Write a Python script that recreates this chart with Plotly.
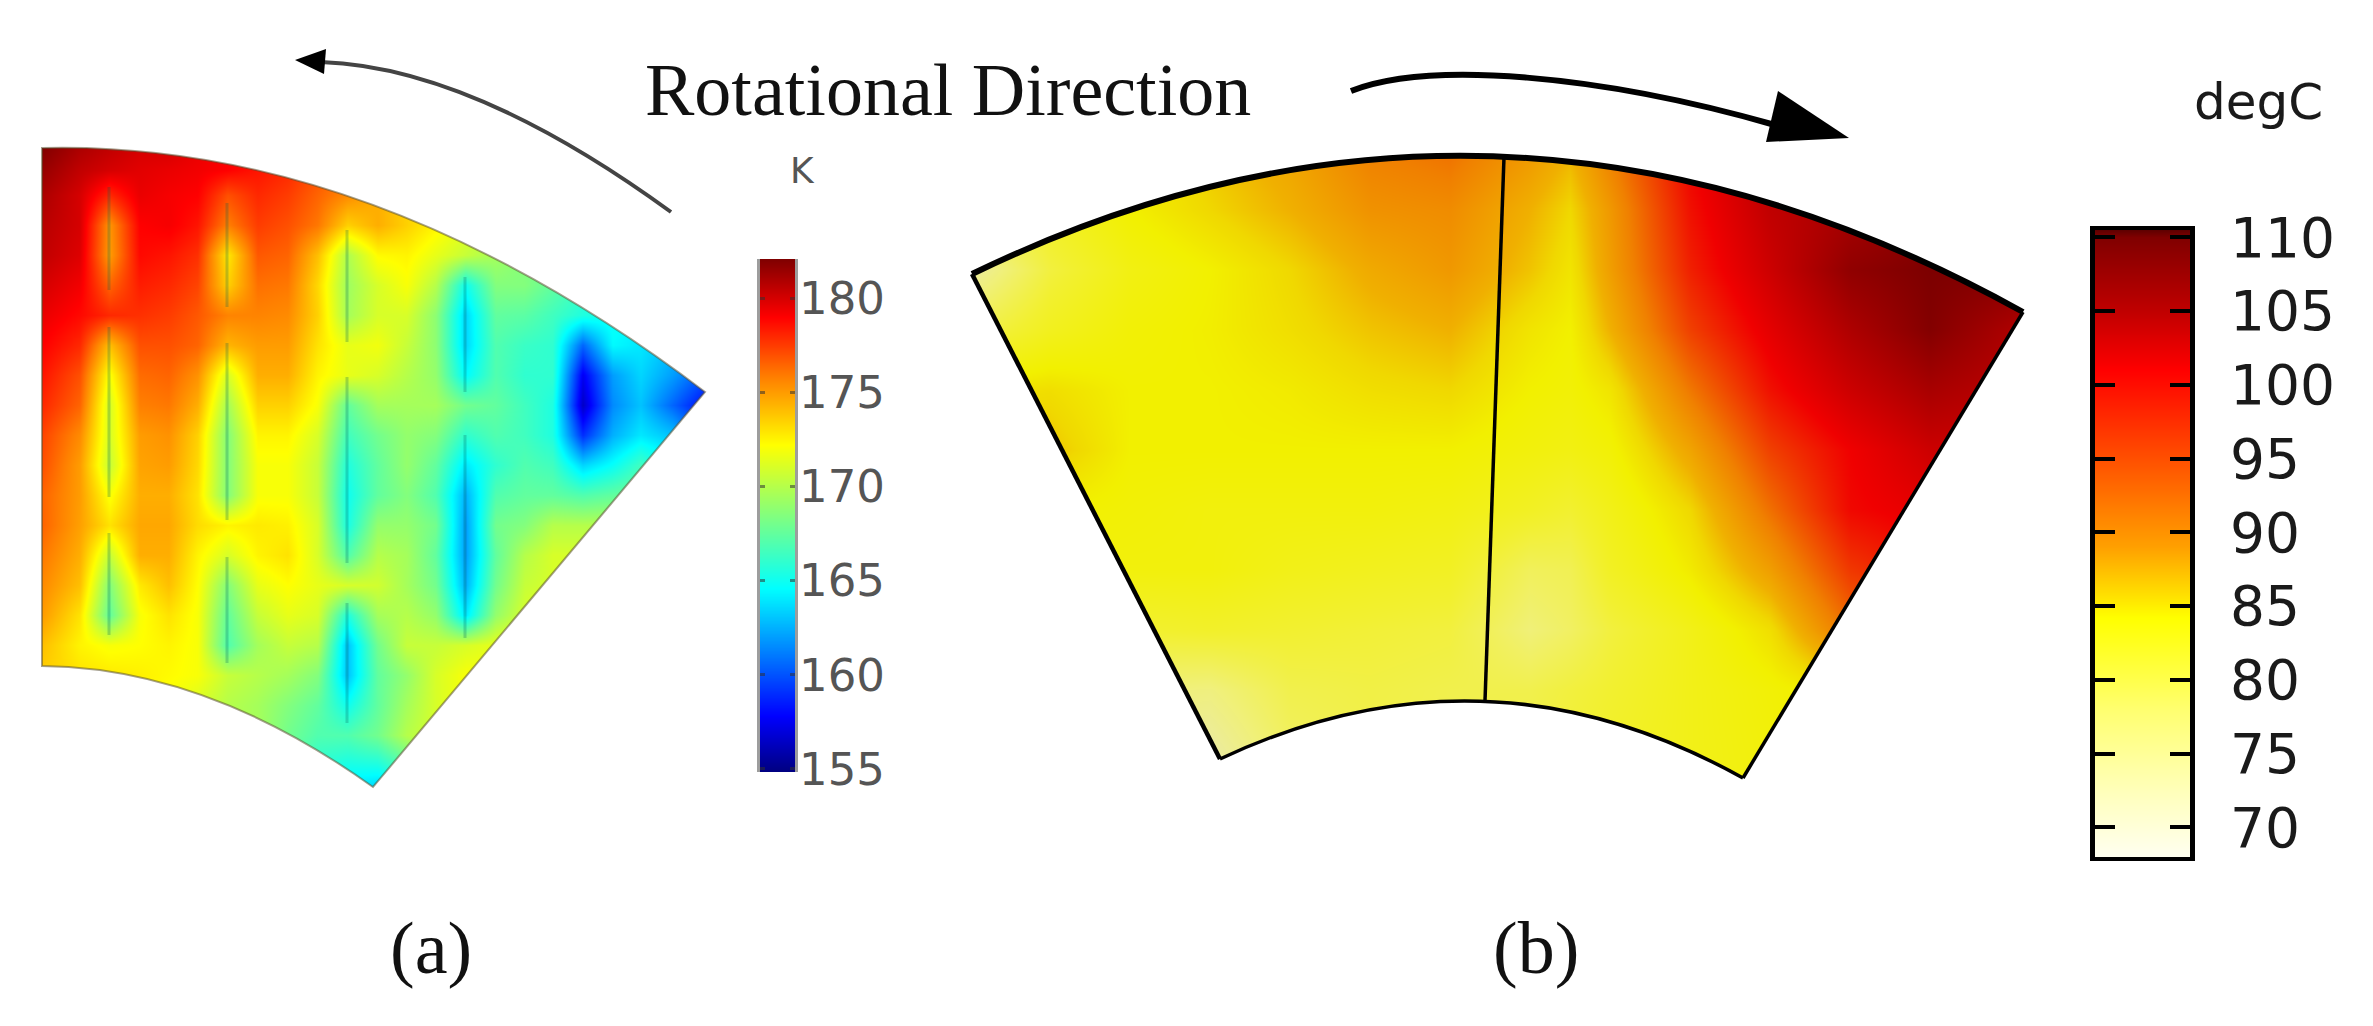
import plotly.graph_objects as go

# ---------- panel (a): temperature field, K ----------
a_x = [42, 79, 109, 139, 168, 197, 227, 257, 287, 317, 347, 377, 406, 435, 465, 495, 524, 552, 582, 612, 640, 672, 705]
a_y = [148, 170, 195, 225, 255, 285, 315, 345, 375, 405, 435, 465, 495, 525, 555, 585, 615, 645, 675, 705, 735, 787]
a_z = [
 [182,181,180.5,180,180,179.5,179,178.5,178,177.5,177,176,175,174,173,172,171,170,169,168,167,166,165],
 [181.5,180.5,180,179.7,179.5,179.3,179,178.5,178,177,176,175,174,173,172,171,170,169,168,167,166,165,164],
 [181,180,178,179.5,179.2,179,177,178,177.5,176.5,175.5,174.5,173.5,172.5,171.5,170.5,169.5,168.5,167.5,166.5,165.5,164.5,163.5],
 [180.7,180,175.2,179,179.2,178.5,175.8,177.5,177,176,173.5,174.5,173.5,172.5,171.5,170.5,169.5,168.5,167.5,166.5,165.5,164.5,163.5],
 [180.5,179.8,175,178.8,178.5,177.8,172.8,176.8,176.5,174,169.8,172.3,172.5,171.5,170.5,169.5,168.5,167.5,166.5,165.5,164.5,163.5,162.5],
 [180,179.3,176.5,178.3,178,177.3,173.5,176.2,176,173.3,169.3,171,172,170,165,168.5,168.5,167.5,166.5,165.5,164.5,163.5,162.5],
 [179.5,178.8,178,177.8,177.5,176.8,175.7,175.7,175.5,173.5,169.5,171,171,168.8,163.5,167.5,167.3,166.5,165.5,165,164.5,163.5,162.5],
 [179,178,174,177,177,176.5,174.3,175,175,173,171.5,171.8,170.5,168.8,163.5,167,166.3,166,160.5,164.5,164,163,162],
 [178.5,177,172,176.3,176.5,175.3,171,174.5,174.5,172.5,171.5,171,170,169,164.5,167,166,166,157.5,162,163.5,162,160],
 [178,176.5,171,175.8,176,174.5,169.5,173.5,173.5,172,167.5,169.5,169.5,169.5,168,167.5,166.5,165.5,156.5,161.5,163,160.5,158],
 [177.3,175.5,171,175,175.3,173.5,168.5,172.5,172.5,171,166.5,168,169,168.5,166,167,166.5,165.5,159,162.5,164,163,160],
 [177,175,170.5,174.8,175,173.3,168.5,172,172,170.5,165.5,167.5,169,167.5,164,166,167,166.5,163.5,164.8,166.5,165,163],
 [176.5,175,172,174.5,174.5,173,168.5,172,172,170.5,165,167.5,168.5,167,162.5,167,167.5,167.5,167,167.5,168,168,168],
 [176.5,174.9,173,174.7,174.7,173.2,172.5,172.8,172.6,171,165.3,169,169,168,162,168,168.5,170,170,170,170,170,170],
 [176,174.5,170.5,174.5,174.5,172.5,171,172.5,173,171,167,170,169.5,167.5,162,167.5,170,171,171,171,171,171,171],
 [175.5,174,168.5,172.8,174,172.2,168.5,171.5,172.2,171.5,171,170.8,169.5,168,162.5,168,170.5,171,171,171,171,171,171],
 [175,173,167.5,172,173,172,167.5,170.5,171.5,171,165.5,169.5,170,169,164,169,171,172,172,172,172,172,172],
 [174,172.5,172,172.2,172.5,172,167,169.5,170.5,170,163,168,170.5,170.5,171,171.5,172,172,172,172,172,172,172],
 [173.5,173,172.8,172.6,172.3,172,170.5,170,169.5,168.5,163,167.5,169,171,172,172,172,172,172,172,172,172,172],
 [173,172.8,172.6,172.4,172,171,170,169.5,168.5,167.5,165,167.5,169.5,171,172,172,172,172,172,172,172,172,172],
 [173,172.8,172.6,172.4,172,171,170,169.5,168,167,167,168,170,171,172,172,172,172,172,172,172,172,172],
 [173,172.8,172.6,172.4,172,171,170,169,167,165,164,163.5,165,168,172,172,172,172,172,172,172,172,172],
]
# thin slots in panel (a)
slot_x = [109, 109, 109, 227, 227, 227, 347, 347, 347, 465, 465]
slot_top = [187, 327, 533, 203, 343, 557, 230, 377, 603, 277, 435]
slot_bottom = [290, 497, 635, 307, 520, 663, 342, 563, 723, 392, 638]

a_ticks = [155, 160, 165, 170, 175, 180]
a_bar_levels = [154.84, 158, 162, 166, 170, 174, 178, 182.07]
a_scale_stops = [154.84, 157.8, 164.6, 168.4, 172.2, 175.8, 179, 182.07]
a_scale_colors = ["#00007f", "#0000ff", "#00ffff", "#80ff80", "#ffff00", "#ff8000", "#ff0000", "#800000"]

# ---------- panel (b): temperature field, degC ----------
b_x = [970, 1050, 1130, 1210, 1290, 1370, 1450, 1530, 1570, 1610, 1690, 1770, 1850, 1930, 2025]
b_y = [150, 210, 270, 330, 390, 450, 510, 570, 630, 690, 780]
b_z = [
 [80,82,84,87,89,92,93,90,88,92,100,105,107,108,108],
 [78,81,84,86,88,90.5,91,88,86,90,99,104,106,108,108],
 [72,79,82.5,84,86,88.5,90,87,85,89.5,98,103,108,109.5,109],
 [78,81.5,83.5,84.2,85.5,87,88,85,84,88,96,101,105.5,109,105],
 [85,85.5,84,84,84.5,85.5,86,84,83.5,85,92.5,99,103,106,104],
 [87,87,84,84,84,84,84,83,82.5,83.5,89,96,100,103,103],
 [84,84,83.5,83,83,83,82.5,81,80,82,86,93,99.5,101,101],
 [83,83,83,83,82,81.5,81,77,77.5,81,84.5,89.5,96.5,99,99],
 [80,80,80,80.5,80,79.5,79,75,76.5,79,82,85.5,93,95,95],
 [75,75,75,74.5,78,78.5,78,78,79,80,82,83.5,85,85,85],
 [71,71,71,70.5,76,78,78,79,80,81,82,83,84,84,84],
]
b_ticks = [70, 75, 80, 85, 90, 95, 100, 105, 110]
b_bar_levels = [68, 70, 75, 80, 85, 90, 95, 100, 105, 110, 110.5]
b_stops = [68, 70, 75, 80, 84, 86, 88, 92, 96, 100, 104, 108, 110.5]
b_field_colors = ["#e8e8c0", "#e8e8b8", "#f0f078", "#f2f030", "#f2f000", "#f0d800", "#f0b000", "#f08000", "#f04000", "#f00000", "#c00000", "#900000", "#700000"]
b_bar_stops = [68, 72, 78, 84.2, 89, 95, 101, 105, 110, 110.5]
b_bar_colors = ["#fffff0", "#ffffc0", "#ffff70", "#ffff00", "#ffa000", "#ff5000", "#ff0000", "#c00000", "#800000", "#600000"]

texts = ["Rotational Direction", "(a)", "(b)", "K", "degC"]


def scale(stops, colors):
    lo, hi = stops[0], stops[-1]
    return [[(s - lo) / (hi - lo), c] for s, c in zip(stops, colors)]


a_scale = scale(a_scale_stops, a_scale_colors)
b_field_scale = scale(b_stops, b_field_colors)
b_bar_scale = scale(b_bar_stops, b_bar_colors)

fig = go.Figure()

fig.add_trace(go.Heatmap(x=a_x, y=a_y, z=a_z, zsmooth="best", colorscale=a_scale,
                         zmin=a_scale_stops[0], zmax=a_scale_stops[-1], showscale=False, hoverinfo="skip"))
fig.add_trace(go.Heatmap(x=b_x, y=b_y, z=b_z, zsmooth="best", colorscale=b_field_scale,
                         zmin=b_stops[0], zmax=b_stops[-1], showscale=False, hoverinfo="skip"))

sx, sy = [], []
for x, t, b in zip(slot_x, slot_top, slot_bottom):
    sx += [x, x, None]
    sy += [t, b, None]
fig.add_trace(go.Scatter(x=sx, y=sy, mode="lines", line=dict(color="rgba(0,90,80,0.25)", width=3),
                         hoverinfo="skip", showlegend=False))

# colour bars, each on its own small axes
fig.add_trace(go.Heatmap(x=[0, 1], y=a_bar_levels, z=[[v, v] for v in a_bar_levels], xaxis="x2", yaxis="y2",
                         zsmooth="best", colorscale=a_scale, zmin=a_scale_stops[0], zmax=a_scale_stops[-1],
                         showscale=False, hoverinfo="skip"))
fig.add_trace(go.Heatmap(x=[0, 1], y=b_bar_levels, z=[[v, v] for v in b_bar_levels], xaxis="x3", yaxis="y3",
                         zsmooth="best", colorscale=b_bar_scale, zmin=b_bar_stops[0], zmax=b_bar_stops[-1],
                         showscale=False, hoverinfo="skip"))

W, H = 2373, 1026
A_OUT = "M42 148 Q372.5 140 705 392 L373 787 Q206.5 667.5 42 666 Z"
B_OUT = "M972 274 Q1496.5 20 2023 312 L1743 778 Q1484.5 634 1220 759 Z"

shapes = [
    dict(type="path", path="M0 100 H738 V830 H0 Z " + A_OUT, fillcolor="white", line=dict(width=0), layer="above"),
    dict(type="path", path="M900 90 H2090 V840 H900 Z " + B_OUT, fillcolor="white", line=dict(width=0), layer="above"),
    dict(type="path", path=A_OUT, line=dict(color="rgba(90,80,50,0.55)", width=2), layer="above"),
    dict(type="path", path="M972 274 Q1496.5 20 2023 312", line=dict(color="black", width=6), layer="above"),
    dict(type="path", path="M972 274 L1220 759", line=dict(color="black", width=4.5), layer="above"),
    dict(type="path", path="M2023 312 L1743 778", line=dict(color="black", width=3.5), layer="above"),
    dict(type="path", path="M1220 759 Q1484.5 634 1743 778", line=dict(color="black", width=3.5), layer="above"),
    dict(type="path", path="M1504 157 L1485 701", line=dict(color="black", width=3.5), layer="above"),
    # arrows
    dict(type="path", path="M671 212 Q472 67 321 62", line=dict(color="#444444", width=4), layer="above"),
    dict(type="path", path="M295 60 L326 49 L324 74 Z", fillcolor="black", line=dict(width=0), layer="above"),
    dict(type="path", path="M1351 91 C1430 60 1600 75 1775 125", line=dict(color="black", width=6), layer="above"),
    dict(type="path", path="M1778 91 L1766 142 L1849 138 Z", fillcolor="black", line=dict(width=0), layer="above"),
]


def note(t, x, y, fam, size, col):
    return dict(text=t, x=x, y=y, xref="x", yref="y", showarrow=False, xanchor="center", yanchor="middle",
                font=dict(family=fam, size=size, color=col))


annotations = [
    note(texts[0], 948, 90, "Liberation Serif", 74, "#111111"),
    note(texts[1], 431, 948, "Liberation Serif", 74, "#111111"),
    note(texts[2], 1536, 948, "Liberation Serif", 74, "#111111"),
    note(texts[3], 802, 170, "DejaVu Sans", 36, "#555555"),
    note(texts[4], 2258, 102, "DejaVu Sans", 50, "#1a1a1a"),
]

fig.update_layout(
    width=W, height=H, margin=dict(l=0, r=0, t=0, b=0, autoexpand=False), paper_bgcolor="white", plot_bgcolor="white",
    showlegend=False, shapes=shapes, annotations=annotations,
    xaxis=dict(domain=[0, 1], range=[0, W], visible=False),
    yaxis=dict(domain=[0, 1], range=[H, 0], visible=False),
    xaxis2=dict(domain=[760 / W, 795 / W], range=[0, 1], anchor="y2", showticklabels=False, ticks="",
                showgrid=False, zeroline=False),
    yaxis2=dict(domain=[1 - 772 / H, 1 - 259 / H], range=[a_bar_levels[0], a_bar_levels[-1]], anchor="x2", side="right",
                tickvals=a_ticks, ticks="inside", ticklen=5, tickwidth=3, tickcolor="rgba(50,50,50,0.55)",
                showline=True, linecolor="rgba(60,60,60,0.5)", linewidth=3, mirror="ticks", showgrid=False,
                zeroline=False, ticklabelstandoff=-8, tickfont=dict(family="DejaVu Sans", size=45, color="#555555")),
    xaxis3=dict(domain=[2095 / W, 2190 / W], range=[0, 1], anchor="y3", showticklabels=False, ticks="",
                showgrid=False, zeroline=False, showline=True, linecolor="black", linewidth=4, mirror=True),
    yaxis3=dict(domain=[1 - 857 / H, 1 - 230 / H], range=[b_bar_levels[0], b_bar_levels[-1]], anchor="x3", side="right",
                tickvals=b_ticks, ticks="inside", ticklen=20, tickwidth=4, tickcolor="black",
                showline=True, linecolor="black", linewidth=5, mirror="ticks", showgrid=False, zeroline=False,
                ticklabelstandoff=24, tickfont=dict(family="DejaVu Sans", size=55, color="#1a1a1a")),
)

fig.write_html("out.html", config=dict(displayModeBar=False),
               post_script="document.body.style.margin='0';document.body.style.overflow='hidden';")
